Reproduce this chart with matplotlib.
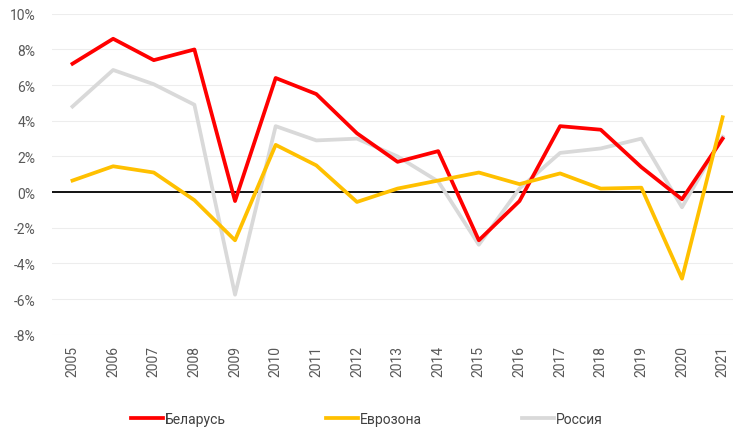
import numpy as np
import matplotlib.pyplot as plt

plt.rcParams['font.family'] = ['Roboto', 'DejaVu Sans']

years = [str(y) for y in range(2005, 2022)]
belarus = [7.2, 8.6, 7.4, 8.0, -0.5, 6.4, 5.5, 3.3, 1.7, 2.3, -2.7, -0.5, 3.7, 3.5, 1.4, -0.4, 3.0]
eurozone = [0.65, 1.45, 1.1, -0.45, -2.7, 2.65, 1.5, -0.55, 0.2, 0.65, 1.1, 0.45, 1.05, 0.2, 0.25, -4.85, 4.2]
russia = [4.8, 6.85, 6.05, 4.9, -5.75, 3.7, 2.9, 3.0, 2.0, 0.6, -2.95, 0.2, 2.2, 2.45, 3.0, -0.85, 3.1]

fig = plt.figure(figsize=(7.35, 4.35), dpi=100)
ax = fig.add_axes([0.071, 0.228, 0.926, 0.738])

x = np.arange(len(years))
ax.plot(x, belarus, color="#ff0000", lw=2.7, label="Беларусь", zorder=3)
ax.plot(x, eurozone, color="#ffc000", lw=2.7, label="Еврозона", zorder=3)
ax.plot(x, russia, color="#d9d9d9", lw=2.7, label="Россия", zorder=2)
ax.axhline(0, color="black", lw=1.3, zorder=1)

ax.set_xlim(-0.5, 16.25)
ax.set_ylim(-8, 10)
ax.set_yticks(np.arange(-8, 11, 2))
ax.set_yticklabels([f"{v}%" for v in range(-8, 11, 2)])
ax.set_xticks(x)
ax.set_xticklabels(years, rotation=90)
ax.grid(axis="y", color="#ededed", lw=0.8)
ax.set_axisbelow(True)
for s in ax.spines.values():
    s.set_visible(False)
ax.tick_params(length=0, labelsize=10, colors="#595959")
ax.tick_params(axis="y", pad=12)
ax.tick_params(axis="x", pad=7)

fig.legend(loc="center", bbox_to_anchor=(0.499, 0.035), ncol=3, frameon=False,
           handlelength=2.3, handletextpad=0.15, columnspacing=7.2,
           fontsize=10, labelcolor="#404040")

fig.savefig("out.png", dpi=100)
